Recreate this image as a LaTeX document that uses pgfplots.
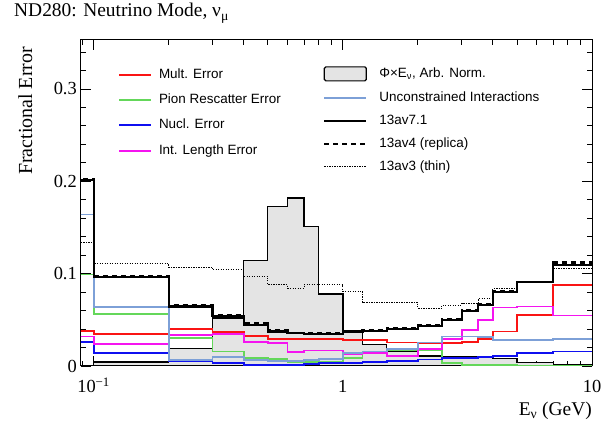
\documentclass[border=0pt]{standalone}
\usepackage{pgfplots}
\pgfplotsset{compat=1.18}
\usepackage{fontspec}
\setmainfont{Liberation Serif}
\newfontfamily\helv{Liberation Sans}

\definecolor{cRed}{RGB}{250,20,20}
\definecolor{cGreen}{RGB}{100,215,90}
\definecolor{cBlue}{RGB}{15,15,240}
\definecolor{cMag}{RGB}{245,20,240}
\definecolor{cLBlue}{RGB}{125,160,215}
\definecolor{cFill}{RGB}{228,228,228}

\begin{document}
\begin{tikzpicture}
\useasboundingbox (0,0) rectangle (609bp,421bp);
\begin{axis}[
  at={(81bp,55bp)}, anchor=south west, scale only axis,
  width=511bp, height=326bp,
  xmode=log, xmin=0.089, xmax=10, ymin=0, ymax=0.353,
  xtick={0.1,1,10}, xticklabels={10\textsuperscript{−1},1,10},
  minor xtick={0.09,0.2,0.3,0.4,0.5,0.6,0.7,0.8,0.9,2,3,4,5,6,7,8,9},
  ytick={0,0.1,0.2,0.3}, yticklabels={0,0.1,0.2,0.3},
  minor ytick={0.02,0.04,0.06,0.08,0.12,0.14,0.16,0.18,0.22,0.24,0.26,0.28,0.32,0.34},
  /pgf/number format/assume math mode=true,
  tick label style={font=\fontsize{18.5}{20}\selectfont},
  xticklabel style={anchor=base, yshift=-27bp},
  yticklabel style={anchor=east, inner sep=0pt, xshift=-4bp},
  major tick length=10bp, minor tick length=5bp,
  axis line style={line width=1bp},
  every tick/.style={black, line width=0.8bp},
  clip=true,
  legend style={at={(rel axis cs:0.4736,0.92)}, anchor=north west, draw=none, fill=none,
    inner sep=0pt, row sep=10bp, column sep=12bp, font=\helv\fontsize{13.5}{15}\selectfont,
    nodes={inner sep=0pt, text height=10bp, text depth=3bp}},
  legend cell align=left,
  legend image code/.code={\draw[#1] (0bp,0bp) -- (42bp,0bp);},
]
% Flux x E, arb. norm.
\addplot[const plot, fill=cFill, draw=black, line width=1.4bp,
  legend image code/.code={\draw[fill=cFill,draw=black,line width=1.2bp,rounded corners=1.5bp] (0bp,-7bp) rectangle (42bp,7bp);}]
 coordinates {(0.06,0.0005) (0.1,0.0043) (0.2,0.019) (0.3,0.052) (0.4,0.1145) (0.5,0.173) (0.6,0.182) (0.7,0.151) (0.8,0.078) (1.0,0.036) (1.2,0.0235) (1.5,0.0156) (2.0,0.011) (2.5,0.010) (3.0,0.010) (3.5,0.0095) (4.0,0.0083) (5.0,0.004) (7.0,0.001) (10,0.001)} \closedcycle;
\addlegendentry{Φ×E\textsubscript{ν}, Arb. Norm.}
% Mult. error
\addplot[const plot, cRed, line width=1.8bp, forget plot]
 coordinates {(0.06,0.038) (0.1,0.0344) (0.2,0.040) (0.3,0.037) (0.4,0.0326) (0.5,0.0293) (0.6,0.029) (0.7,0.029) (0.8,0.029) (1.0,0.028) (1.2,0.028) (1.5,0.0254) (2.0,0.025) (2.5,0.0246) (3.0,0.0264) (3.5,0.029) (4.0,0.0373) (5.0,0.0554) (7.0,0.0873) (10,0.0873)};
% Pion rescatter
\addplot[const plot, cGreen, line width=1.8bp, forget plot]
 coordinates {(0.06,0.099) (0.1,0.0565) (0.2,0.030) (0.3,0.0156) (0.4,0.009) (0.5,0.0075) (0.6,0.0045) (0.7,0.0045) (0.8,0.0045) (1.0,0.0083) (1.2,0.0138) (1.5,0.0174) (2.0,0.0167) (2.5,0.003) (3.0,0.0012) (3.5,0.0012) (4.0,0.0012) (5.0,0.0006) (7.0,0.0006) (10,0.0006)};
% Nucl. error
\addplot[const plot, cBlue, line width=1.8bp, forget plot]
 coordinates {(0.06,0.026) (0.1,0.0145) (0.2,0.005) (0.3,0.003) (0.4,0.0015) (0.5,0.0015) (0.6,0.001) (0.7,0.002) (0.8,0.0035) (1.0,0.0035) (1.2,0.0045) (1.5,0.005) (2.0,0.007) (2.5,0.0083) (3.0,0.0087) (3.5,0.010) (4.0,0.0105) (5.0,0.0138) (7.0,0.0156) (10,0.0156)};
% Int. length error
\addplot[const plot, cMag, line width=1.8bp, forget plot]
 coordinates {(0.06,0.032) (0.1,0.0236) (0.2,0.0333) (0.3,0.035) (0.4,0.0264) (0.5,0.025) (0.6,0.0155) (0.7,0.0167) (0.8,0.0167) (1.0,0.013) (1.2,0.0145) (1.5,0.011) (2.0,0.018) (2.5,0.029) (3.0,0.039) (3.5,0.050) (4.0,0.0634) (5.0,0.0645) (7.0,0.0547) (10,0.0547)};
% Unconstrained interactions
\addplot[const plot, cLBlue, line width=1.8bp]
 coordinates {(0.06,0.164) (0.1,0.064) (0.2,0.0068) (0.3,0.0094) (0.4,0.0065) (0.5,0.0054) (0.6,0.005) (0.7,0.0065) (0.8,0.008) (1.0,0.0138) (1.2,0.0156) (1.5,0.018) (2.0,0.0254) (2.5,0.032) (3.0,0.032) (3.5,0.031) (4.0,0.028) (5.0,0.028) (7.0,0.0293) (10,0.0293)};
\addlegendentry{Unconstrained Interactions}
% 13av7.1
\addplot[const plot, black, line width=2.2bp]
 coordinates {(0.06,0.201) (0.1,0.096) (0.2,0.0645) (0.3,0.054) (0.4,0.0446) (0.5,0.0373) (0.6,0.0355) (0.7,0.035) (0.8,0.035) (1.0,0.0373) (1.2,0.038) (1.5,0.040) (2.0,0.0435) (2.5,0.050) (3.0,0.0598) (3.5,0.0663) (4.0,0.080) (5.0,0.0906) (7.0,0.109) (10,0.109)};
\addlegendentry{13av7.1}
% 13av4 (replica)
\addplot[const plot, black, line width=2.2bp, dash pattern=on 5bp off 4bp]
 coordinates {(0.06,0.202) (0.1,0.097) (0.2,0.066) (0.3,0.055) (0.4,0.046) (0.5,0.039) (0.6,0.036) (0.7,0.036) (0.8,0.036) (1.0,0.0375) (1.2,0.0385) (1.5,0.041) (2.0,0.0445) (2.5,0.051) (3.0,0.060) (3.5,0.067) (4.0,0.081) (5.0,0.091) (7.0,0.112) (10,0.112)};
\addlegendentry{13av4 (replica)}
% 13av3 (thin)
\addplot[const plot, black, line width=1bp, dash pattern=on 1.2bp off 1.3bp]
 coordinates {(0.06,0.134) (0.1,0.111) (0.2,0.107) (0.3,0.104) (0.4,0.097) (0.5,0.088) (0.6,0.0844) (0.7,0.088) (0.8,0.088) (1.0,0.0808) (1.2,0.0688) (1.5,0.0688) (2.0,0.0627) (2.5,0.066) (3.0,0.068) (3.5,0.0728) (4.0,0.0837) (5.0,0.0917) (7.0,0.106) (10,0.106)};
\addlegendentry{13av3 (thin)}
\end{axis}
% left legend
\begin{axis}[
  at={(81bp,55bp)}, anchor=south west, scale only axis,
  width=511bp, height=326bp, hide axis,
  xmin=0, xmax=1, ymin=0, ymax=1,
  legend style={at={(rel axis cs:0.0724,0.914)}, anchor=north west, draw=none, fill=none,
    inner sep=0pt, row sep=12.3bp, column sep=7bp, font=\helv\fontsize{13.5}{15}\selectfont,
    nodes={inner sep=0pt, text height=10bp, text depth=3bp}},
  legend cell align=left,
  legend image code/.code={\draw[#1] (0bp,0bp) -- (32bp,0bp);},
]
\addlegendimage{cRed, line width=1.8bp}\addlegendentry{Mult. Error}
\addlegendimage{cGreen, line width=1.8bp}\addlegendentry{Pion Rescatter Error}
\addlegendimage{cBlue, line width=1.8bp}\addlegendentry{Nucl. Error}
\addlegendimage{cMag, line width=1.8bp}\addlegendentry{Int. Length Error}
\end{axis}
\node[anchor=base west, inner sep=0pt, font=\fontsize{19.5}{22}\selectfont] at (14bp,404bp) {ND280: Neutrino Mode, ν\textsubscript{μ}};
\node[anchor=base west, inner sep=0pt, rotate=90, font=\fontsize{20}{22}\selectfont] at (32bp,246bp) {Fractional Error};
\node[anchor=base east, inner sep=0pt, font=\fontsize{19.5}{22}\selectfont] at (592bp,6bp) {E\textsubscript{ν} (GeV)};
\end{tikzpicture}
\end{document}
